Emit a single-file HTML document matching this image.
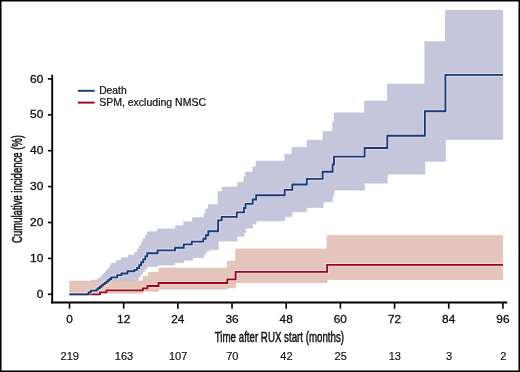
<!DOCTYPE html>
<html><head><meta charset="utf-8"><style>
html,body{margin:0;padding:0;background:#fff;}
svg{display:block;will-change:transform;}
text{font-family:"Liberation Sans",sans-serif;fill:#111;}
.t{font-size:11.2px;stroke:#111;stroke-width:0.3px;}
.r{font-size:10.2px;stroke:#111;stroke-width:0.15px;}
.l{font-size:10.3px;stroke:#111;stroke-width:0.22px;}
.c{font-size:14.3px;stroke:#111;stroke-width:0.48px;}
</style></head><body>
<svg width="520" height="372" viewBox="0 0 520 372">
<rect width="520" height="372" fill="#fff"/>
<path d="M69.50,294.30L90.00,294.30L90.00,284.00L91.40,284.00L91.40,280.20L97.80,280.20L97.80,278.30L100.50,278.30L100.50,276.20L102.30,276.20L102.30,274.60L104.00,274.60L104.00,273.00L106.10,273.00L106.10,270.60L107.60,270.60L107.60,269.30L109.10,269.30L109.10,267.60L110.20,267.60L110.20,265.40L111.30,265.40L111.30,263.20L116.60,263.20L116.60,260.50L121.30,260.50L121.30,257.80L128.00,257.80L128.00,255.20L134.80,255.20L134.80,252.30L137.50,252.30L137.50,248.88L139.50,248.88L139.50,245.47L141.50,245.47L141.50,242.05L143.50,242.05L143.50,238.63L145.50,238.63L145.50,235.22L147.50,235.22L147.50,231.80L157.40,231.80L157.40,229.00L175.60,229.00L175.60,225.80L183.70,225.80L183.70,221.80L192.60,221.80L192.60,217.70L204.10,217.70L204.10,213.70L205.80,213.70L205.80,209.10L208.40,209.10L208.40,204.80L218.10,204.80L218.10,191.50L222.30,191.50L222.30,187.10L237.60,187.10L237.60,182.30L244.00,182.30L244.00,176.90L245.60,176.90L245.60,172.10L252.90,172.10L252.90,166.80L256.10,166.80L256.10,161.20L284.80,161.20L284.80,154.20L292.10,154.20L292.10,147.40L307.10,147.40L307.10,140.20L323.00,140.20L323.00,131.50L332.60,131.50L332.60,122.30L334.20,122.30L334.20,112.90L364.60,112.90L364.60,101.10L387.40,101.10L387.40,84.10L424.80,84.10L424.80,41.70L445.50,41.70L445.50,10.20L502.70,10.20L502.70,139.40L445.40,139.40L445.40,161.20L424.90,161.20L424.90,174.10L387.30,174.10L387.30,183.10L364.40,183.10L364.40,190.00L333.90,190.00L333.90,196.10L332.30,196.10L332.30,201.80L323.10,201.80L323.10,207.40L306.60,207.40L306.60,211.80L291.80,211.80L291.80,216.60L284.70,216.60L284.70,220.80L256.10,220.80L256.10,224.00L252.60,224.00L252.60,228.20L245.60,228.20L245.60,232.30L244.00,232.30L244.00,236.30L236.90,236.30L236.90,241.10L218.20,241.10L218.20,249.80L208.70,249.80L208.70,251.00L206.40,251.00L206.40,253.50L204.00,253.50L204.00,257.50L192.60,257.50L192.60,260.20L183.70,260.20L183.70,262.60L174.80,262.60L174.80,264.90L157.60,264.90L157.60,266.50L146.88,266.50L146.88,269.06L144.76,269.06L144.76,271.62L142.64,271.62L142.64,274.18L140.52,274.18L140.52,276.74L138.40,276.74L138.40,280.00L137.00,280.00L137.00,291.00L89.00,291.00L89.00,294.30L69.50,294.30Z" fill="#c5c6dc" stroke="#b9bad3" stroke-width="0.6"/>
<path d="M69.70,281.10L143.00,281.10L143.00,276.20L148.50,276.20L148.50,272.30L159.00,272.30L159.00,268.00L227.30,268.00L227.30,261.00L235.60,261.00L235.60,249.00L327.10,249.00L327.10,235.40L502.70,235.40L502.70,279.50L327.10,279.50L327.10,282.70L235.60,282.70L235.60,287.80L227.30,287.80L227.30,289.10L158.90,289.10L158.90,291.20L142.80,291.20L142.80,293.20L99.20,293.20L99.20,294.30L69.70,294.30Z" fill="#e5c5bb" stroke="#dbb8ad" stroke-width="0.6"/>
<path d="M69.50,294.30H99.90V292.30H106.40V290.40H142.80V288.30H147.50V286.00H158.50V283.00H227.30V279.40H235.60V271.80H327.10V264.80H503.00" fill="none" stroke="#fff" stroke-opacity="0.45" stroke-width="3.6"/>
<path d="M69.50,294.30H99.90V292.30H106.40V290.40H142.80V288.30H147.50V286.00H158.50V283.00H227.30V279.40H235.60V271.80H327.10V264.80H503.00" fill="none" stroke="#a00422" stroke-width="1.85"/>
<path d="M69.50,294.30H88.60V292.40H90.80V290.60H96.60V289.31H98.23V288.02H99.87V286.73H101.50V285.44H103.13V284.16H104.77V282.87H106.40V281.58H108.03V280.29H109.67V279.00H111.20V277.30H117.20V275.10H121.50V273.50H127.40V271.20H134.40V269.80H137.00V268.00H139.20V265.20H141.20V262.20H143.30V259.30H145.30V256.40H147.20V253.20H157.60V250.40H175.00V247.70H183.70V244.40H191.80V241.60H203.30V238.70H205.80V235.20H208.30V231.20H218.10V220.40H221.70V216.80H236.80V212.40H244.00V208.00H245.60V203.90H252.70V199.50H256.10V195.20H284.70V189.80H292.30V184.50H306.80V178.90H322.60V171.70H332.60V164.50H334.00V156.60H364.60V148.00H387.30V135.70H424.90V111.20H445.40V74.80H503.00" fill="none" stroke="#fff" stroke-opacity="0.45" stroke-width="3.6"/>
<path d="M69.50,294.30H88.60V292.40H90.80V290.60H96.60V289.31H98.23V288.02H99.87V286.73H101.50V285.44H103.13V284.16H104.77V282.87H106.40V281.58H108.03V280.29H109.67V279.00H111.20V277.30H117.20V275.10H121.50V273.50H127.40V271.20H134.40V269.80H137.00V268.00H139.20V265.20H141.20V262.20H143.30V259.30H145.30V256.40H147.20V253.20H157.60V250.40H175.00V247.70H183.70V244.40H191.80V241.60H203.30V238.70H205.80V235.20H208.30V231.20H218.10V220.40H221.70V216.80H236.80V212.40H244.00V208.00H245.60V203.90H252.70V199.50H256.10V195.20H284.70V189.80H292.30V184.50H306.80V178.90H322.60V171.70H332.60V164.50H334.00V156.60H364.60V148.00H387.30V135.70H424.90V111.20H445.40V74.80H503.00" fill="none" stroke="#1a3977" stroke-width="1.85"/>
<path d="M52.2,74.7V303.5" stroke="#000" stroke-width="1.9" fill="none"/>
<path d="M51.25,302.55H507.3" stroke="#000" stroke-width="1.9" fill="none"/>
<path d="M47.9,294.30H52" stroke="#000" stroke-width="1.6"/>
<text x="43.4" y="297.90" text-anchor="end" class="t" textLength="6.65" lengthAdjust="spacingAndGlyphs">0</text>
<path d="M47.9,258.40H52" stroke="#000" stroke-width="1.6"/>
<text x="43.4" y="262.00" text-anchor="end" class="t" textLength="13.30" lengthAdjust="spacingAndGlyphs">10</text>
<path d="M47.9,222.50H52" stroke="#000" stroke-width="1.6"/>
<text x="43.4" y="226.10" text-anchor="end" class="t" textLength="13.30" lengthAdjust="spacingAndGlyphs">20</text>
<path d="M47.9,186.60H52" stroke="#000" stroke-width="1.6"/>
<text x="43.4" y="190.20" text-anchor="end" class="t" textLength="13.30" lengthAdjust="spacingAndGlyphs">30</text>
<path d="M47.9,150.70H52" stroke="#000" stroke-width="1.6"/>
<text x="43.4" y="154.30" text-anchor="end" class="t" textLength="13.30" lengthAdjust="spacingAndGlyphs">40</text>
<path d="M47.9,114.80H52" stroke="#000" stroke-width="1.6"/>
<text x="43.4" y="118.40" text-anchor="end" class="t" textLength="13.30" lengthAdjust="spacingAndGlyphs">50</text>
<path d="M47.9,78.90H52" stroke="#000" stroke-width="1.6"/>
<text x="43.4" y="82.50" text-anchor="end" class="t" textLength="13.30" lengthAdjust="spacingAndGlyphs">60</text>
<path d="M69.50,303V308.7" stroke="#000" stroke-width="1.6"/>
<text x="69.50" y="323.3" text-anchor="middle" class="t" textLength="6.60" lengthAdjust="spacingAndGlyphs">0</text>
<path d="M123.67,303V308.7" stroke="#000" stroke-width="1.6"/>
<text x="123.67" y="323.3" text-anchor="middle" class="t" textLength="13.20" lengthAdjust="spacingAndGlyphs">12</text>
<path d="M177.85,303V308.7" stroke="#000" stroke-width="1.6"/>
<text x="177.85" y="323.3" text-anchor="middle" class="t" textLength="13.20" lengthAdjust="spacingAndGlyphs">24</text>
<path d="M232.02,303V308.7" stroke="#000" stroke-width="1.6"/>
<text x="232.02" y="323.3" text-anchor="middle" class="t" textLength="13.20" lengthAdjust="spacingAndGlyphs">36</text>
<path d="M286.20,303V308.7" stroke="#000" stroke-width="1.6"/>
<text x="286.20" y="323.3" text-anchor="middle" class="t" textLength="13.20" lengthAdjust="spacingAndGlyphs">48</text>
<path d="M340.38,303V308.7" stroke="#000" stroke-width="1.6"/>
<text x="340.38" y="323.3" text-anchor="middle" class="t" textLength="13.20" lengthAdjust="spacingAndGlyphs">60</text>
<path d="M394.55,303V308.7" stroke="#000" stroke-width="1.6"/>
<text x="394.55" y="323.3" text-anchor="middle" class="t" textLength="13.20" lengthAdjust="spacingAndGlyphs">72</text>
<path d="M448.72,303V308.7" stroke="#000" stroke-width="1.6"/>
<text x="448.72" y="323.3" text-anchor="middle" class="t" textLength="13.20" lengthAdjust="spacingAndGlyphs">84</text>
<path d="M502.90,303V308.7" stroke="#000" stroke-width="1.6"/>
<text x="502.90" y="323.3" text-anchor="middle" class="t" textLength="13.20" lengthAdjust="spacingAndGlyphs">96</text>
<text x="69.80" y="359.7" text-anchor="middle" class="r" textLength="18.45" lengthAdjust="spacingAndGlyphs">219</text>
<text x="123.97" y="359.7" text-anchor="middle" class="r" textLength="18.45" lengthAdjust="spacingAndGlyphs">163</text>
<text x="178.15" y="359.7" text-anchor="middle" class="r" textLength="18.45" lengthAdjust="spacingAndGlyphs">107</text>
<text x="232.32" y="359.7" text-anchor="middle" class="r" textLength="12.30" lengthAdjust="spacingAndGlyphs">70</text>
<text x="286.50" y="359.7" text-anchor="middle" class="r" textLength="12.30" lengthAdjust="spacingAndGlyphs">42</text>
<text x="340.68" y="359.7" text-anchor="middle" class="r" textLength="12.30" lengthAdjust="spacingAndGlyphs">25</text>
<text x="394.85" y="359.7" text-anchor="middle" class="r" textLength="12.30" lengthAdjust="spacingAndGlyphs">13</text>
<text x="449.02" y="359.7" text-anchor="middle" class="r" textLength="6.15" lengthAdjust="spacingAndGlyphs">3</text>
<text x="503.20" y="359.7" text-anchor="middle" class="r" textLength="6.15" lengthAdjust="spacingAndGlyphs">2</text>
<text x="214.8" y="341.8" class="c" textLength="129.2" lengthAdjust="spacingAndGlyphs">Time after RUX start (months)</text>
<text transform="translate(21.9,242.9) rotate(-90)" x="0" y="0" class="c" textLength="107.9" lengthAdjust="spacingAndGlyphs">Cumulative incidence (%)</text>
<path d="M77.9,90.8H94.6" stroke="#1a3977" stroke-width="1.95"/>
<path d="M77.9,102.6H94.6" stroke="#a00422" stroke-width="1.95"/>
<text x="99.2" y="93.9" class="l">Death</text>
<text x="99.2" y="105.6" class="l" textLength="106.8" lengthAdjust="spacingAndGlyphs">SPM, excluding NMSC</text>
<rect x="0" y="0" width="520" height="1.5" fill="#000"/>
<rect x="0" y="0" width="1.5" height="372" fill="#000"/>
<rect x="518.5" y="0" width="1.5" height="372" fill="#000"/>
<rect x="0" y="370.5" width="520" height="1.5" fill="#000"/>
</svg>
</body></html>
